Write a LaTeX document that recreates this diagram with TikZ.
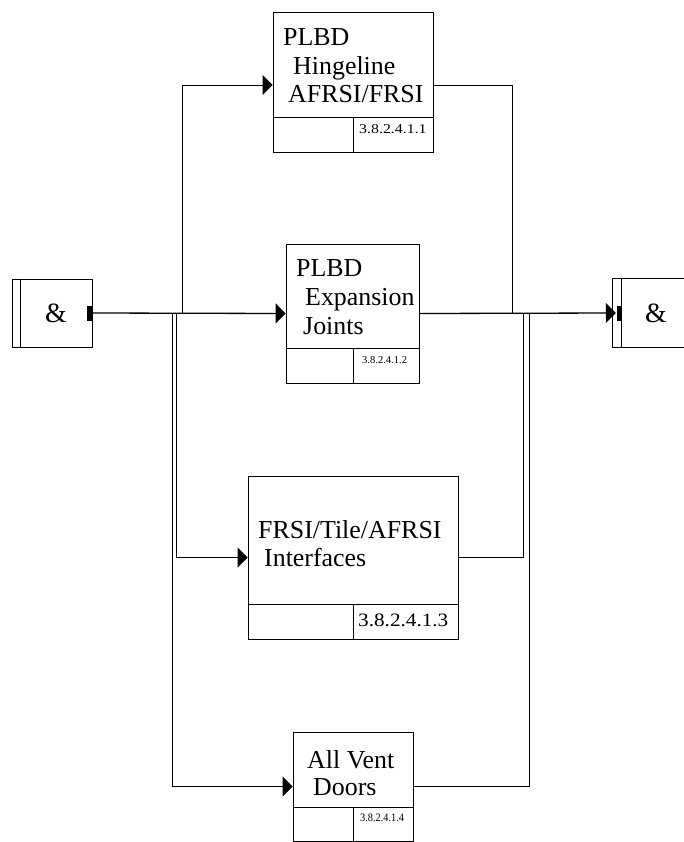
\documentclass[tikz,border=0pt]{standalone}
\usepackage{fontspec}
\setmainfont{Liberation Serif}
\usetikzlibrary{arrows.meta}
\tikzset{
  box/.style={draw, line width=0.8bp, rectangle, inner sep=0pt},
  conn/.style={line width=0.8bp},
  mainconn/.style={line width=1.3bp},
  arr/.style={-{Triangle[length=10bp,width=20bp]}},
  lbl/.style={anchor=base west, inner sep=0pt, font=\fontsize{26}{29}\selectfont},
  num/.style={anchor=base west, inner sep=0pt},
  amp/.style={inner sep=0pt, font=\fontsize{28}{30}\selectfont},
}
\begin{document}
\begin{tikzpicture}[x=1bp,y=-1bp]
\useasboundingbox (0,0) rectangle (684,842);
\fill[white] (0,0) rectangle (684,842);

% boxes
\node[box, minimum width=160bp, minimum height=140bp] (b1) at (353,82) {};
\node[box, minimum width=133bp, minimum height=139bp] (b2) at (352.5,313.5) {};
\node[box, minimum width=210bp, minimum height=163bp] (b3) at (353,557.5) {};
\node[box, minimum width=120bp, minimum height=109bp] (b4) at (353,786.5) {};
\node[box, minimum width=80bp, minimum height=68bp] (andL) at (52,313) {};
\node[minimum width=71bp, minimum height=68bp, inner sep=0pt] (andR) at (648.5,313) {};
\draw[conn] (andR.north east) -- (andR.north west) -- (andR.south west) -- (andR.south east);

% inner lines of & boxes
\draw[conn] (andL.north west -| 20,0) -- (andL.south west -| 20,0);
\draw[conn] (andR.north west -| 621,0) -- (andR.south west -| 621,0);
\fill (87,306) rectangle (92,321);
\fill (617,306) rectangle (621,321);
\node[amp] (ampL) at (56,313) {\&};
\node[amp] (ampR) at (656,313) {\&};

% dividers
\draw[conn] (b1.west |- 0,117) -- (b1.east |- 0,117);
\draw[conn] (353,117) -- (b1.south -| 353,0);
\draw[conn] (b2.west |- 0,348) -- (b2.east |- 0,348);
\draw[conn] (353,348) -- (b2.south -| 353,0);
\draw[conn] (b3.west |- 0,604) -- (b3.east |- 0,604);
\draw[conn] (353,604) -- (b3.south -| 353,0);
\draw[conn] (b4.west |- 0,807) -- (b4.east |- 0,807);
\draw[conn] (353,807) -- (b4.south -| 353,0);

% texts
\node[lbl] (t1a) at (283,45) {PLBD};
\node[lbl] (t1b) at (293,74) {Hingeline};
\node[lbl] (t1c) at (288,102) {AFRSI/FRSI};
\node[num] (n1) at (359,133) {\scalebox{1.18}[1]{\fontsize{13.5}{15}\selectfont 3.8.2.4.1.1}};

\node[lbl] (t2a) at (296,276) {PLBD};
\node[lbl] (t2b) at (305,305) {Expansion};
\node[lbl] (t2c) at (303,334) {Joints};
\node[num] (n2) at (362,363) {\fontsize{10.6}{12}\selectfont 3.8.2.4.1.2};

\node[lbl] (t3a) at (258,538) {FRSI/Tile/AFRSI};
\node[lbl] (t3b) at (264,566) {Interfaces};
\node[num] (n3) at (358,626) {\scalebox{1.12}[1]{\fontsize{19}{21}\selectfont 3.8.2.4.1.3}};

\node[lbl] (t4a) at (307,768) {All Vent};
\node[lbl] (t4b) at (313,795) {Doors};
\node[num] (n4) at (360,821) {\scalebox{0.9}[1]{\fontsize{11.5}{13}\selectfont 3.8.2.4.1.4}};

% junction coordinates
\coordinate (jL1) at (182,313);
\coordinate (jL2) at (176,313);
\coordinate (jL3) at (172,313);
\coordinate (jR1) at (512,313);
\coordinate (jR2) at (523,313);
\coordinate (jR3) at (529,313);

% connectors
\draw[mainconn, arr] (andL.east) -- (b2.west);
\draw[conn, arr] (jL1) |- ([yshift=-3bp]b1.west);
\draw[conn, arr] (jL2) |- (b3.west);
\draw[conn, arr] (jL3) |- (b4.west);
\draw[conn] ([yshift=-3bp]b1.east) -| (jR1);
\draw[mainconn, arr] (b2.east) -- ([xshift=3bp]andR.west);
\draw[conn] (b3.east) -| (jR2);
\draw[conn] (b4.east) -| (jR3);
\end{tikzpicture}
\end{document}
